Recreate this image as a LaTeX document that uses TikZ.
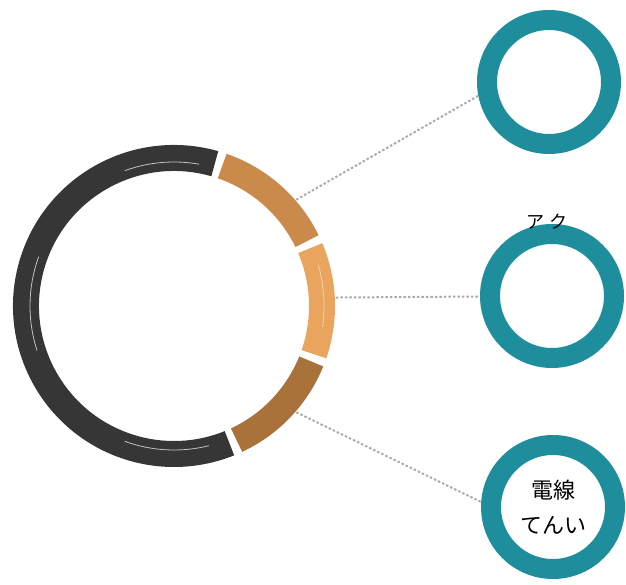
\documentclass[tikz,border=0pt]{standalone}
\usepackage{fontspec}
\newfontfamily\cjk{Noto Sans CJK JP}
\definecolor{segdark}{HTML}{363636}
\definecolor{segtan}{HTML}{C98A4B}
\definecolor{seglight}{HTML}{E9A55E}
\definecolor{segbrown}{HTML}{A9723A}
\definecolor{tealring}{HTML}{1E8E9C}
\tikzset{
  seg/.style={line width=26pt, line cap=butt},
  hilite/.style={white, opacity=0.7, line width=0.8pt},
  ring/.style={circle, draw=tealring, line width=20pt, minimum size=124pt, inner sep=0pt, align=center, font=\cjk\fontsize{22}{35}\selectfont},
  link/.style={gray!65, line width=2pt, dash pattern=on 2.5pt off 2pt},
}
\begin{document}
\begin{tikzpicture}[x=1pt, y=1pt]
\useasboundingbox (0,0) rectangle (626,584);
\coordinate (big) at (174,278);
% big segmented ring
\draw[seg, segdark] ([shift={(74:148)}]big) arc[start angle=74, end angle=292, radius=148];
\draw[seg, segtan] ([shift={(71:148)}]big) arc[start angle=71, end angle=26, radius=148];
\draw[seg, seglight] ([shift={(23:148)}]big) arc[start angle=23, end angle=-19, radius=148];
\draw[seg, segbrown] ([shift={(-22:148)}]big) arc[start angle=-22, end angle=-65, radius=148];
% highlights
\draw[hilite] ([shift={(80:144)}]big) arc[start angle=80, end angle=110, radius=144];
\draw[hilite] ([shift={(160:144)}]big) arc[start angle=160, end angle=198, radius=144];
\draw[hilite] ([shift={(250:144)}]big) arc[start angle=250, end angle=284, radius=144];
\draw[hilite, opacity=0.5] ([shift={(-8:150)}]big) arc[start angle=-8, end angle=16, radius=150];
% link start points
\coordinate (s1) at ([shift={(41:162)}]big);
\coordinate (s2) at ([shift={(3:162)}]big);
\coordinate (s3) at ([shift={(-41:162)}]big);
% teal rings
\node[ring] (r1) at (549,502) {};
\node[ring] (r2) at (552,288) {};
\node[ring] (r3) at (553,77) {電線\\てんい};
\node[font=\cjk\fontsize{18}{18}\selectfont, inner sep=0pt] (lbl) at (547,362) {ア\hspace{5pt}ク};
% connectors
\draw[link] (s1) -- (r1.191);
\draw[link] (s2) -- (r2);
\draw[link] (s3) -- (r3.176);
\end{tikzpicture}
\end{document}
